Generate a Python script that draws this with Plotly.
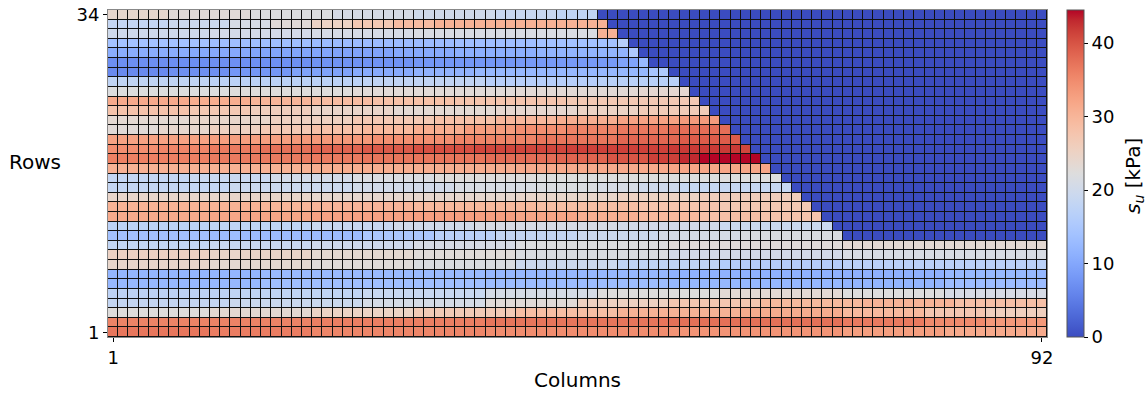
import numpy as np
import plotly.graph_objects as go

# ---- data: undrained shear strength s_u [kPa], 34 rows x 92 columns ----
# each row given as runs of (value, number of columns), row 1 (bottom) first
n_cols = 92
n_rows = 34
su_runs = [
    [(37, 10), (36.3, 10), (35.5, 17), (34.8, 18), (34, 17), (32.8, 10), (31.5, 10)],                      # row 1
    [(35.8, 20), (36.2, 17), (37, 18), (37.5, 17), (36.5, 8), (35, 6), (33.5, 6)],                         # row 2
    [(22.5, 10), (23.5, 10), (25, 10), (26.8, 10), (28.8, 10), (30.5, 12), (31.3, 10), (29.5, 8), (27.5, 6), (25.8, 6)],
    [(18.3, 12), (19.3, 13), (20.8, 12), (23, 9), (25.5, 9), (27.5, 9), (29.5, 10), (30.3, 9), (28.5, 9)],
    [(17.5, 12), (18, 13), (19, 12), (20.8, 11), (22.5, 12), (23.3, 12), (22.2, 10), (21, 10)],
    [(12.4, 15), (13.5, 22), (13.2, 18), (12.3, 17), (11.7, 10), (13.2, 10)],
    [(12, 15), (12.7, 22), (12.2, 18), (11.5, 17), (11.2, 10), (12.3, 10)],
    [(24.3, 10), (23.5, 10), (22.7, 10), (21.8, 10), (19.5, 10), (17.8, 10), (16, 12), (17, 20)],
    [(25.2, 10), (24.5, 10), (23.5, 10), (22.7, 10), (21.8, 15), (20.5, 17), (21.3, 20)],
    [(18, 10), (18.8, 10), (19.8, 10), (21, 10), (22, 15), (22.8, 17), (23.5, 20)],                        # row 10
    [(14, 10), (13.3, 15), (15, 7), (17, 6), (18.3, 8), (19.5, 8), (20.8, 8), (21.8, 10), (0, 20)],
    [(17.3, 10), (17.8, 10), (19, 8), (20.3, 8), (21, 14), (20.3, 10), (19.3, 11), (0, 21)],
    [(31.5, 10), (32, 10), (32.5, 10), (32.8, 10), (32, 6), (30.8, 6), (29.5, 6), (28.5, 6), (27.8, 6), (0, 22)],
    [(30.5, 15), (30, 15), (29.5, 12), (28.8, 10), (27.8, 8), (27, 9), (0, 23)],
    [(24.5, 20), (24, 20), (24.5, 10), (25.3, 8), (26.2, 10), (0, 24)],
    [(18.5, 12), (19.3, 12), (20.3, 10), (21.3, 8), (21.8, 6), (21, 4), (19.8, 4), (18.7, 11), (0, 25)],
    [(18.3, 8), (19, 8), (20.3, 8), (21.5, 8), (22.5, 10), (22.3, 24), (0, 26)],
    [(30.5, 20), (31, 20), (31.5, 15), (32, 10), (0, 27)],
    [(36, 10), (36.5, 15), (37, 12), (37.7, 7), (38.5, 5), (39.8, 4), (41.5, 3), (43, 2), (44.5, 6), (0, 28)],
    [(34.5, 5), (35.5, 5), (36.5, 5), (37.5, 5), (38.5, 5), (39.5, 5), (40.3, 6), (41, 9), (41.5, 10), (42, 7), (41, 1), (0, 29)],
    [(32.3, 10), (32.8, 8), (33.5, 8), (34.5, 8), (35.7, 8), (37, 8), (38.3, 6), (39.3, 6), (0, 30)],
    [(23, 5), (24, 5), (25.5, 5), (27, 5), (28.3, 5), (29.5, 5), (31, 5), (33, 5), (34.5, 5), (35.7, 5), (36.7, 5), (37.7, 6), (0, 31)],
    [(23.5, 8), (24.3, 8), (25.5, 8), (27, 8), (28.3, 6), (29.7, 6), (31, 6), (32.3, 6), (33.3, 4), (0, 32)],
    [(28, 8), (27, 6), (26, 6), (24.5, 8), (23.3, 10), (23.8, 8), (25, 6), (26.5, 7), (0, 33)],
    [(31.5, 8), (31, 6), (30, 6), (29, 6), (28.3, 8), (27.8, 11), (27, 13), (0, 34)],
    [(22, 12), (22.5, 12), (23, 16), (23.3, 12), (23.8, 5), (0, 35)],
    [(17.8, 10), (17.3, 15), (17.8, 12), (16.5, 11), (17, 8), (0, 36)],
    [(6.5, 6), (7.2, 6), (8, 6), (9.3, 6), (10.5, 6), (11.5, 6), (12.3, 17), (14.5, 1), (15.5, 1), (0, 37)],
    [(7, 10), (7.2, 10), (7.5, 10), (8, 10), (8.3, 10), (9.5, 2), (12.5, 1), (0, 39)],
    [(10.8, 8), (10.3, 6), (9.7, 8), (9.5, 6), (10.3, 6), (11, 8), (11.7, 9), (15.3, 1), (0, 40)],
    [(14, 10), (13.5, 10), (13, 14), (13.5, 8), (14, 8), (16.5, 1), (0, 41)],
    [(20, 10), (20.5, 10), (21, 10), (21.5, 18), (30.5, 2), (0, 42)],
    [(18.5, 6), (19.5, 6), (21, 4), (23, 4), (25, 4), (27, 4), (29, 4), (30.5, 17), (0, 43)],
    [(24, 6), (23, 8), (22, 8), (21, 8), (20, 8), (19, 6), (18, 4), (0, 44)],                           # row 34
]
col_ticks = [1, 92]
row_ticks = [1, 34]
cbar_ticks = [0, 10, 20, 30, 40]
su_max = 44.5

# ---- build grid from runs ----
z = []
for runs in su_runs:
    row = []
    for v, n in runs:
        row.extend([v] * n)
    row = (row + [0] * n_cols)[:n_cols]
    z.append(row)
z = np.array(z)

# ---- matplotlib coolwarm colormap ----
cw = [
    (0.2298057, 0.298717966, 0.753683153), (0.26623388, 0.353094838, 0.801466763),
    (0.30386891, 0.406535296, 0.84495867), (0.342804478, 0.458757618, 0.883725899),
    (0.38301334, 0.50941904, 0.917387822), (0.424369608, 0.558148092, 0.945619588),
    (0.46666708, 0.604562568, 0.968154911), (0.509635204, 0.648280772, 0.98478814),
    (0.552953156, 0.688929332, 0.995375608), (0.596262162, 0.726149107, 0.999836203),
    (0.639176211, 0.759599947, 0.998151185), (0.681291281, 0.788964712, 0.990363227),
    (0.722193294, 0.813952739, 0.976574709), (0.761464949, 0.834302879, 0.956945269),
    (0.798691636, 0.849786142, 0.931688648), (0.833466556, 0.860207984, 0.901068838),
    (0.865395197, 0.86541021, 0.865395561), (0.897787179, 0.848937047, 0.820880546),
    (0.924127593, 0.827384882, 0.774508472), (0.944468518, 0.800927443, 0.726736146),
    (0.958852946, 0.769767752, 0.678007945), (0.96732803, 0.734132809, 0.628751763),
    (0.969954137, 0.694266682, 0.579375448), (0.966811177, 0.650421156, 0.530263762),
    (0.958003065, 0.602842431, 0.481775914), (0.943660866, 0.551750968, 0.434243684),
    (0.923944917, 0.49730856, 0.387970225), (0.89904617, 0.439559467, 0.343229596),
    (0.869186849, 0.378313092, 0.300267182), (0.834620542, 0.312874446, 0.259301199),
    (0.795631745, 0.24128379, 0.220525627), (0.752534934, 0.157246067, 0.184115123),
    (0.705673158, 0.01555616, 0.150232812),
]
colorscale = [[i / (len(cw) - 1), "rgb(%d,%d,%d)" % tuple(round(c * 255) for c in rgb)]
              for i, rgb in enumerate(cw)]

FONT = "DejaVu Sans"
L, R, T, B = 108, 1047, 10, 337
W, H = 1148, 396
pw, ph = R - L, B - T

def px_x(x):
    return (x - L) / pw

def px_y(y):
    return (B - y) / ph

fig = go.Figure(go.Heatmap(
    z=z,
    x=list(range(1, n_cols + 1)),
    y=list(range(1, n_rows + 1)),
    zmin=0, zmax=su_max,
    colorscale=colorscale,
    xgap=1, ygap=1,
    colorbar=dict(
        thickness=17, thicknessmode="pixels",
        len=ph, lenmode="pixels",
        x=px_x(1067), xanchor="left", xpad=0,
        y=0.5, yanchor="middle", ypad=0,
        outlinewidth=1, outlinecolor="#555",
        tickvals=cbar_ticks, ticks="outside", ticklen=4, tickcolor="#000",
        tickfont=dict(family=FONT, size=18, color="#000"),
    ),
))

fig.update_layout(
    width=W, height=H,
    margin=dict(l=L, r=W - R, t=T, b=H - B, pad=0, autoexpand=False),
    paper_bgcolor="white",
    plot_bgcolor="#111",
    font=dict(family=FONT, size=18, color="#000"),
    xaxis=dict(range=[0.5, n_cols + 0.5], tickvals=col_ticks, ticks="outside", ticklen=4,
               tickcolor="#000", showgrid=False, zeroline=False,
               showline=True, linecolor="#888", linewidth=1, mirror=True,
               tickfont=dict(family=FONT, size=18)),
    yaxis=dict(range=[0.5, n_rows + 0.5], tickvals=row_ticks, ticks="outside", ticklen=4,
               tickcolor="#000", showgrid=False, zeroline=False,
               showline=True, linecolor="#888", linewidth=1, mirror=True,
               tickfont=dict(family=FONT, size=18)),
    annotations=[
        dict(text="Rows", xref="paper", yref="paper", x=px_x(35), y=px_y(162),
             xanchor="center", yanchor="middle", showarrow=False,
             font=dict(family=FONT, size=20)),
        dict(text="Columns", xref="paper", yref="paper", x=0.5, y=px_y(380),
             xanchor="center", yanchor="middle", showarrow=False,
             font=dict(family=FONT, size=20)),
        dict(text="<i>s</i><sub><i>u</i></sub> [kPa]", xref="paper", yref="paper",
             x=px_x(1134), y=px_y(176), textangle=-90,
             xanchor="center", yanchor="middle", showarrow=False,
             font=dict(family=FONT, size=20)),
    ],
)

fig.write_html("out.html")
